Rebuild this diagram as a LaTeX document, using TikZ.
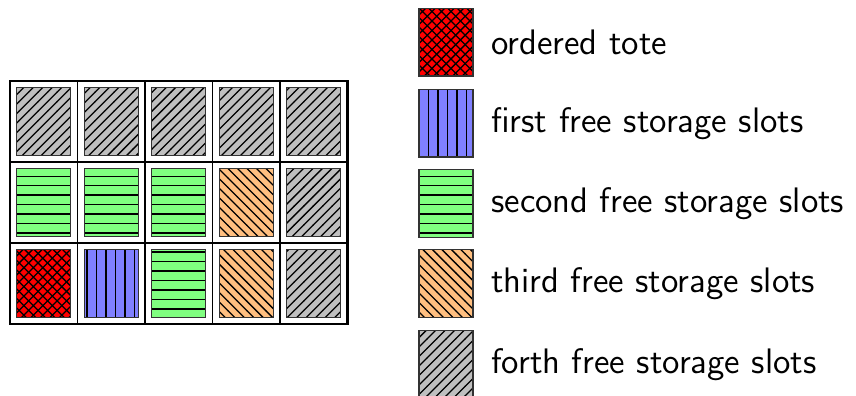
\documentclass[tikz,border=0pt]{standalone}
\usepackage{tikz}
\usetikzlibrary{patterns, positioning}
\tikzset{
  slot/.style={draw=black!80, minimum width=0.6cm, minimum height=0.75cm, inner sep=0pt},
  ordered/.style={slot, preaction={fill=red}, pattern=crosshatch},
  firstfree/.style={slot, preaction={fill=blue!50}, pattern=vertical lines},
  secondfree/.style={slot, preaction={fill=green!50}, pattern=horizontal lines},
  thirdfree/.style={slot, preaction={fill=orange!50}, pattern=north west lines},
  forthfree/.style={slot, preaction={fill=gray!50}, pattern=north east lines},
  legendtext/.style={font=\sffamily\fontsize{11.2}{13}\selectfont, inner sep=0pt}
}

\begin{document}
\begin{tikzpicture}
  \useasboundingbox (-0.111,-0.8) rectangle (9.4,3.6);
  % rack
  \draw[thick] (0,0) rectangle (3.75,2.7);
  \foreach \y in {0.9,1.8} \draw[thick] (0,\y) -- (3.75,\y);
  \foreach \x in {0.75,1.5,2.25,3} \draw (\x,0) -- (\x,2.7);
  % slots, bottom row first
  \foreach \sty [count=\c from 0] in {ordered,firstfree,secondfree,thirdfree,forthfree}
    \node[\sty] (bot\c) at (0.375+0.75*\c,0.45) {};
  \foreach \sty [count=\c from 0] in {secondfree,secondfree,secondfree,thirdfree,forthfree}
    \node[\sty] (mid\c) at (0.375+0.75*\c,1.35) {};
  \foreach \c in {0,...,4}
    \node[forthfree] (top\c) at (0.375+0.75*\c,2.25) {};
  % legend
  \node[ordered] (lord) at (4.844,3.13) {};
  \node[firstfree] (lfirst) at (4.844,2.23) {};
  \node[secondfree] (lsecond) at (4.844,1.34) {};
  \node[thirdfree] (lthird) at (4.844,0.45) {};
  \node[forthfree] (lforth) at (4.844,-0.45) {};
  \node[legendtext, right=0.19cm of lord] (tord) {ordered tote};
  \node[legendtext, right=0.19cm of lfirst] (tfirst) {first free storage slots};
  \node[legendtext, right=0.19cm of lsecond] (tsecond) {second free storage slots};
  \node[legendtext, right=0.19cm of lthird] (tthird) {third free storage slots};
  \node[legendtext, right=0.19cm of lforth] (tforth) {forth free storage slots};
\end{tikzpicture}
\end{document}
